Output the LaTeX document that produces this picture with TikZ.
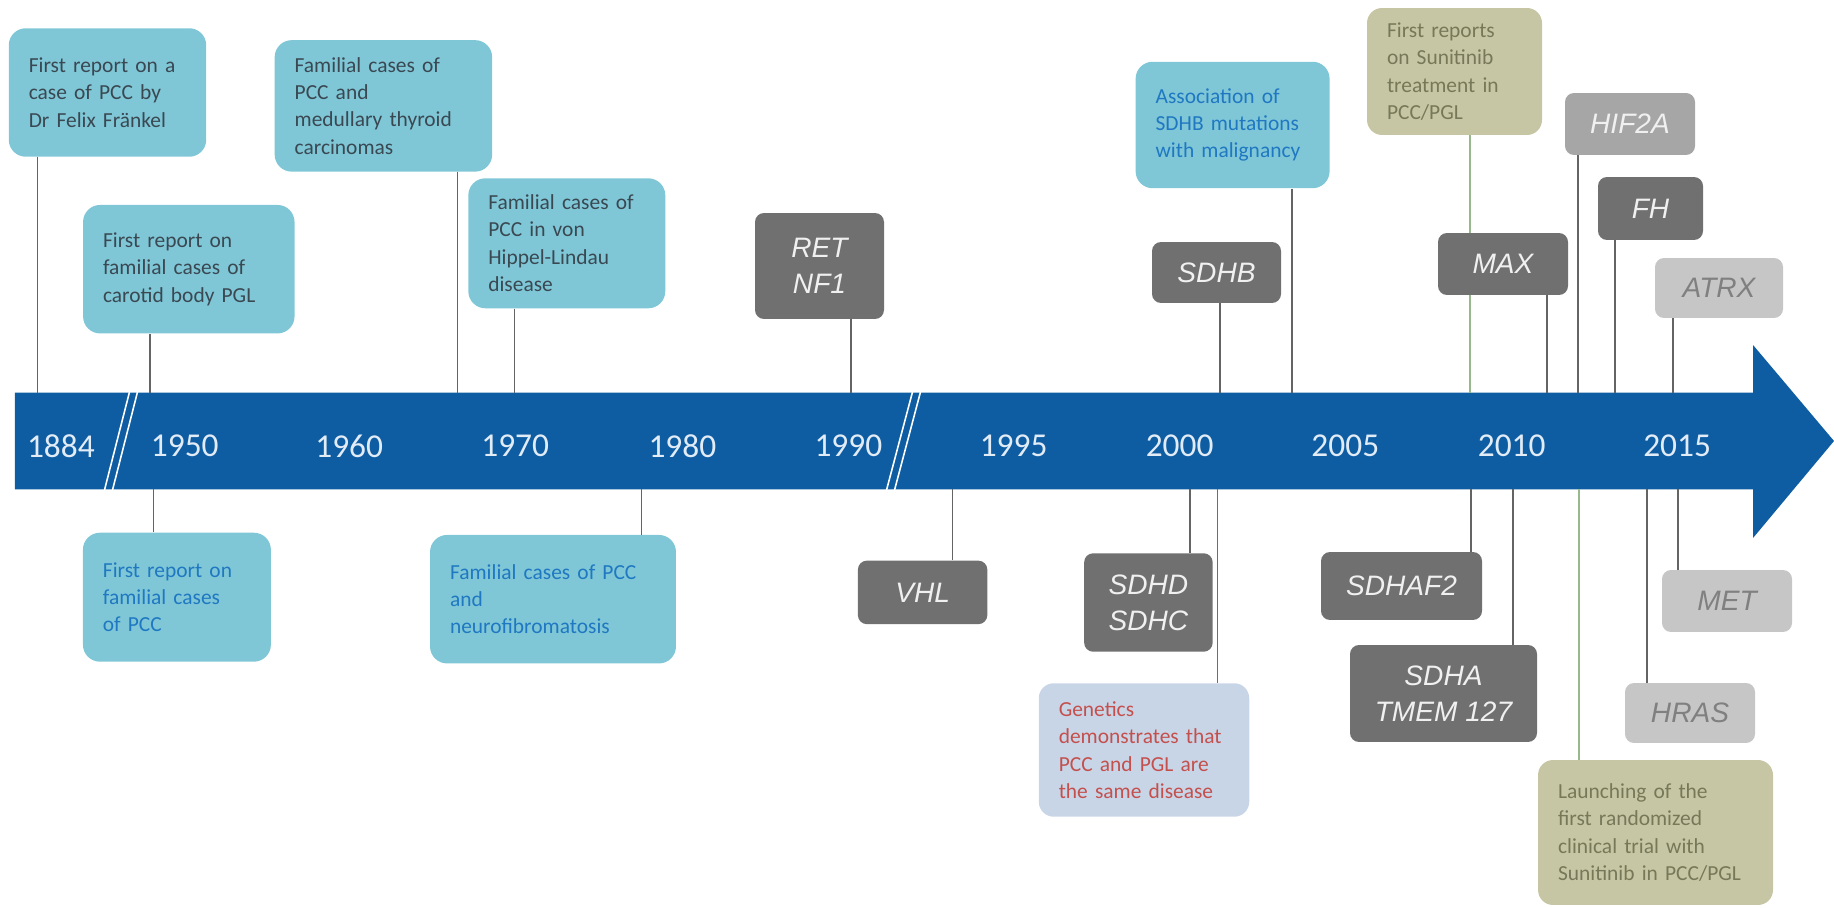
\documentclass[tikz,border=0pt]{standalone}
\usepackage{fontspec}
\setmainfont{Carlito}
\newfontfamily\genefont{Liberation Sans}

\definecolor{bandblue}{RGB}{14,93,163}
\definecolor{yeartext}{RGB}{226,236,246}
\definecolor{tealbox}{RGB}{127,199,215}
\definecolor{slatetext}{RGB}{58,72,82}
\definecolor{bluetext}{RGB}{31,120,193}
\definecolor{genedark}{RGB}{112,112,112}
\definecolor{genemid}{RGB}{166,166,166}
\definecolor{genelight}{RGB}{198,198,198}
\definecolor{genegreytext}{RGB}{128,128,128}
\definecolor{genewhite}{RGB}{240,240,240}
\definecolor{olivebox}{RGB}{199,198,164}
\definecolor{olivetext}{RGB}{118,120,88}
\definecolor{lavbox}{RGB}{200,213,231}
\definecolor{redtext}{RGB}{196,80,77}
\definecolor{conngray}{RGB}{100,100,100}
\definecolor{conngreen}{RGB}{150,186,140}
\definecolor{connred}{RGB}{205,70,70}

\tikzset{
  evt/.style={rounded corners=0.34cm, inner xsep=0.4cm, inner ysep=0pt,
    align=left, font=\fontsize{12.2}{15.6}\selectfont},
  tealevt/.style={evt, fill=tealbox, text=slatetext},
  blueevt/.style={evt, fill=tealbox, text=bluetext},
  oliveevt/.style={evt, fill=olivebox, text=olivetext, rounded corners=0.3cm},
  lavevt/.style={evt, fill=lavbox, text=redtext, rounded corners=0.3cm},
  gene/.style={rounded corners=0.18cm, inner sep=0pt, align=center,
    font=\genefont\itshape\fontsize{16}{20.5}\selectfont},
  genedk/.style={gene, fill=genedark, text=genewhite},
  genemd/.style={gene, fill=genemid, text=genewhite},
  genelt/.style={gene, fill=genelight, text=genegreytext},
  sz/.style 2 args={minimum width=#1, minimum height=#2},
  year/.style={text=yeartext, font=\fontsize{19}{19}\selectfont, inner sep=0pt},
  conn/.style={draw=conngray, line width=0.9pt},
  conngr/.style={draw=conngreen, line width=0.9pt},
  connrd/.style={draw=connred, line width=0.9pt},
  brk/.style={draw=white, line width=0.9pt}
}

\begin{document}
\begin{tikzpicture}[x=0.02cm, y=-0.02cm]
\useasboundingbox (0,0) rectangle (1834,908);

% ---- timeline arrow ----
\node[inner sep=0pt, minimum width=34.76cm, minimum height=1.92cm] (band) at (884,441) {};
\coordinate (headtop) at (1753,345);
\coordinate (tip) at (1834,441);
\coordinate (headbot) at (1753,538);
\fill[bandblue] (band.south west) -- (band.north west) -- (band.north east)
  -- (headtop) -- (tip) -- (headbot) -- (band.south east) -- cycle;

% scale breaks
\draw[brk] (130,390) -- (104,492);
\draw[brk] (138,390) -- (112,492);
\draw[brk] (913,390) -- (886,492);
\draw[brk] (921,390) -- (894,492);

% years
\foreach \yr/\x in {1884/60.9, 1950/184.8, 1960/349.2, 1970/515.2, 1980/682.4,
  1990/848.4, 1995/1013.6, 2000/1179.6, 2005/1345.3, 2010/1511.7, 2015/1677.1}
  \node[year] (y\yr) at (\x,446) {\yr};

% ---- events above the timeline ----
\node[tealevt, sz={3.95cm}{2.57cm}, text width=3.15cm] (fraenkel) at (107.5,92.5)
  {First report on a\\case of PCC by\\Dr Felix Fränkel};
\node[tealevt, sz={4.23cm}{2.57cm}, text width=3.43cm] (carotid) at (188.8,269.2)
  {First report on\\familial cases of\\carotid body PGL};
\node[tealevt, sz={4.35cm}{2.63cm}, text width=3.55cm] (mtc) at (383.4,105.9)
  {Familial cases of\\PCC and\\medullary thyroid\\carcinomas};
\node[tealevt, sz={3.94cm}{2.6cm}, text width=3.14cm] (vhldis) at (566.8,243.3)
  {Familial cases of\\PCC in von\\Hippel-Lindau\\disease};
\node[genedk, sz={2.58cm}{2.12cm}] (ret) at (819.5,266) {RET\\NF1};
\node[blueevt, sz={3.88cm}{2.53cm}, text width=3.08cm] (malig) at (1232.6,125)
  {Association of\\SDHB mutations\\with malignancy};
\node[genedk, sz={2.58cm}{1.22cm}] (sdhb) at (1216.5,272.5) {SDHB};
\node[oliveevt, sz={3.5cm}{2.54cm}, text width=2.7cm] (suni) at (1454.5,71.5)
  {First reports\\on Sunitinib\\treatment in\\PCC/PGL};
\node[genedk, sz={2.6cm}{1.24cm}] (max) at (1503,264) {MAX};
\node[genemd, sz={2.6cm}{1.24cm}] (hif) at (1630,124) {HIF2A};
\node[genedk, sz={2.1cm}{1.26cm}] (fh) at (1650.5,208.5) {FH};
\node[genelt, sz={2.56cm}{1.2cm}] (atrx) at (1719,288) {ATRX};

% ---- events below the timeline ----
\node[blueevt, sz={3.76cm}{2.58cm}, text width=2.96cm] (famPCC) at (176.9,597.2)
  {First report on\\familial cases\\of PCC};
\node[blueevt, sz={4.92cm}{2.57cm}, text width=4.12cm] (nf) at (553,599.2)
  {Familial cases of PCC\\and\\neurofibromatosis};
\node[genedk, sz={2.59cm}{1.27cm}] (vhl) at (922.6,592.4) {VHL};
\node[genedk, sz={2.57cm}{1.97cm}] (sdhd) at (1148.4,602.5) {SDHD\\SDHC};
\node[lavevt, sz={4.21cm}{2.67cm}, text width=3.41cm] (same) at (1144,750)
  {Genetics\\demonstrates that\\PCC and PGL are\\the same disease};
\node[genedk, sz={3.22cm}{1.36cm}] (sdhaf) at (1401.5,586) {SDHAF2};
\node[genedk, sz={3.74cm}{1.94cm}] (sdha) at (1443.5,693.5) {SDHA\\TMEM 127};
\node[genelt, sz={2.6cm}{1.24cm}] (met) at (1727,601) {MET};
\node[genelt, sz={2.6cm}{1.2cm}] (hras) at (1690,713) {HRAS};
\node[oliveevt, sz={4.7cm}{2.9cm}, text width=3.9cm] (trial) at (1655.5,832.5)
  {Launching of the\\first randomized\\clinical trial with\\Sunitinib in PCC/PGL};

% ---- connector positions along the axis ----
\foreach \n/\x in {fraenkel/37.5, carotid/150.2, mtc/457.7, vhldis/514.6,
  ret/851, malig/1291.7, sdhb/1220, suni/1470, max/1547, hif/1578, fh/1615,
  atrx/1673, famPCC/153.4, nf/641.5, vhl/952.6, sdhd/1189.7, same/1217.4,
  sdhaf/1471, sdha/1513, met/1678, hras/1647, trial/1579}
  \coordinate (x\n) at (\x,0);

% connectors above
\foreach \n in {fraenkel, carotid, mtc, vhldis, ret, malig, sdhb, max, hif, fh, atrx}
  \draw[conn] (x\n |- \n.south) -- (x\n |- band.north);
\draw[conngr] (xsuni |- suni.south) -- (xsuni |- max.north);
\draw[conngr] (xsuni |- max.south) -- (xsuni |- band.north);

% connectors below
\foreach \n in {famPCC, nf, vhl, sdhd, sdhaf, sdha, met, hras}
  \draw[conn] (x\n |- band.south) -- (x\n |- \n.north);
\draw[connrd] (xsame |- band.south) -- (xsame |- same.north);
\draw[conngr] (xtrial |- band.south) -- (xtrial |- trial.north);
\end{tikzpicture}
\end{document}
